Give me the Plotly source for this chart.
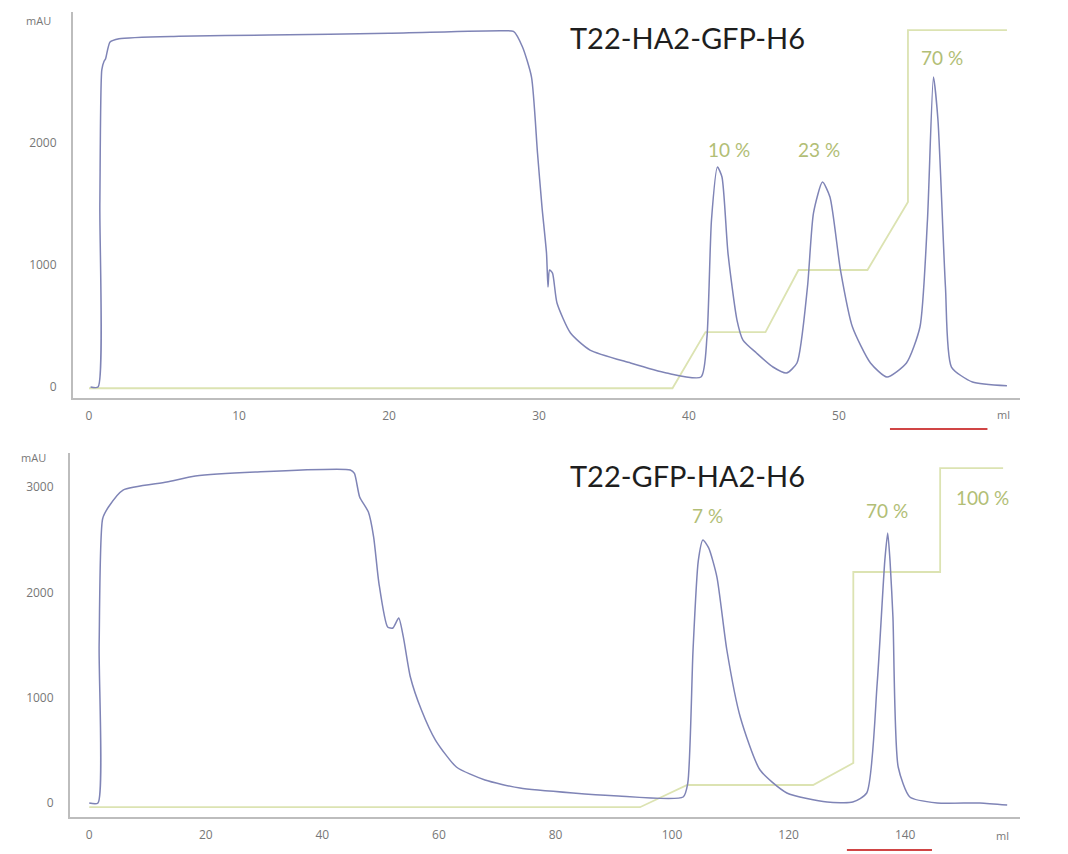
import plotly.graph_objects as go

# ---------------- data ----------------
top_title = "T22-HA2-GFP-H6"
top_x = [0.1, 0.6, 0.72, 0.85, 1.0, 1.1, 1.4, 2.0, 6.0, 12, 20, 27.5, 28.3, 28.9, 29.5, 29.9,
         30.2, 30.5, 30.6, 30.7, 30.9, 31.2, 32.1, 33.4, 36.1, 38.5, 40.8, 41.2, 41.5, 41.9,
         42.2, 42.6, 43.2, 43.6, 44.5, 45.6, 46.5, 47.2, 47.9, 48.3, 48.9, 49.4, 50.1, 50.9,
         52.1, 53.2, 54.5, 55.4, 55.9, 56.3, 56.6, 57.1, 57.5, 58.9, 61.2]
top_mau = [0, 0, 1500, 2600, 2670, 2690, 2828, 2855, 2875, 2885, 2900, 2920, 2915, 2787, 2541, 1918,
           1475, 1098, 820, 959, 934, 689, 443, 303, 197, 115, 82, 410, 1369, 1803,
           1721, 1098, 549, 385, 279, 164, 115, 197, 820, 1426, 1680, 1557, 959, 492,
           197, 82, 197, 492, 1369, 2541, 2189, 820, 164, 41, 10]
top_grad_x = [0, 38.9, 41.1, 45.1, 47.3, 51.9, 54.6, 54.6, 61.2]
top_grad = [-10, -10, 450, 450, 959, 959, 1516, 2926, 2926]
top_labels = ["10 %", "23 %", "70 %"]
top_label_x = [42.7, 48.7, 56.9]
top_label_y = [1943, 1943, 2697]
top_xticks = [0, 10, 20, 30, 40, 50]
top_yticks = [0, 1000, 2000]
top_fraction = [53.4, 59.9]

bot_title = "T22-GFP-HA2-H6"
bot_x = [0.0, 1.5, 1.7, 2.3, 3.3, 5.8, 13.3, 18.2, 28.5, 44.8, 45.5, 46.4, 47.9, 48.8, 49.7,
         51.2, 52.1, 53.1, 53.9, 55.1, 57.0, 59.4, 63.0, 67.9, 73.9, 83.0, 90, 101.9, 102.7,
         103.6, 104.5, 105.3, 106.3, 107.7, 109.4, 111.7, 115.1, 119.7, 126.6, 131.0, 133.4,
         135.2, 136.5, 137.0, 137.4, 137.9, 138.8, 140.8, 145.5, 152.8, 157.5]
bot_mau = [0, 0, 1500, 2700, 2811, 2972, 3048, 3105, 3143, 3162, 3130, 2906, 2763, 2526, 2089,
           1671, 1662, 1757, 1576, 1197, 883, 598, 342, 218, 142, 95, 70, 57, 190,
           1453, 2300, 2498, 2420, 2146, 1453, 817, 313, 95, 10, 9, 95,
           1140, 2300, 2564, 2300, 1766, 342, 57, 0, 0, -20]
bot_grad_x = [0, 94.5, 102.6, 124.2, 131.1, 131.1, 146.0, 146.0, 156.8]
bot_grad = [-40, -40, 171, 171, 380, 2194, 2194, 3181, 3181]
bot_labels = ["7 %", "70 %", "100 %"]
bot_label_x = [106.0, 136.9, 153.3]
bot_label_y = [2735, 2782, 2906]
bot_xticks = [0, 20, 40, 60, 80, 100, 120, 140]
bot_yticks = [0, 1000, 2000, 3000]
bot_fraction = [130.0, 144.6]

# ---------------- styling ----------------
OFF = 8  # default page body margin
W, H = 1068 - OFF, 854 - OFF
CURVE = "#7f84b6"
GRAD = "#dce3b2"
LBL = "#b2be76"
AXC = "#bdbdbd"
TICKF = dict(family="Open Sans", size=12, color="#777777")

def px(x):
    return (x - OFF) / W

def py(y):
    return 1 - (y - OFF) / H

fig = go.Figure()

fig.add_trace(go.Scatter(x=top_grad_x, y=top_grad, mode="lines", line=dict(color=GRAD, width=1.8),
                         xaxis="x", yaxis="y", hoverinfo="skip"))
fig.add_trace(go.Scatter(x=top_x, y=top_mau, mode="lines", line=dict(color=CURVE, width=1.5, shape="spline", smoothing=0.6),
                         xaxis="x", yaxis="y"))
fig.add_trace(go.Scatter(x=bot_grad_x, y=bot_grad, mode="lines", line=dict(color=GRAD, width=1.8),
                         xaxis="x2", yaxis="y2", hoverinfo="skip"))
fig.add_trace(go.Scatter(x=bot_x, y=bot_mau, mode="lines", line=dict(color=CURVE, width=1.5, shape="spline", smoothing=0.6),
                         xaxis="x2", yaxis="y2"))

axis_common = dict(showgrid=False, zeroline=False, showline=True, linecolor=AXC, linewidth=2,
                   ticks="", tickfont=TICKF)

fig.update_layout(
    width=W, height=H, margin=dict(l=0, r=0, t=0, b=0),
    paper_bgcolor="white", plot_bgcolor="white", showlegend=False,
    xaxis=dict(domain=[px(73), px(1020)], range=[-1.07, 62.07], anchor="y",
               tickvals=top_xticks, ticklabelstandoff=6, **axis_common),
    yaxis=dict(domain=[py(398), py(12)], range=[-90, 3074], anchor="x",
               tickvals=top_yticks, ticklabelstandoff=12, **axis_common),
    xaxis2=dict(domain=[px(70), px(1020)], range=[-3.3, 159.7], anchor="y2",
                tickvals=bot_xticks, ticklabelstandoff=6, **axis_common),
    yaxis2=dict(domain=[py(817), py(453)], range=[-133, 3324], anchor="x2",
                tickvals=bot_yticks, ticklabelstandoff=12, **axis_common),
)

ann = []
ann.append(dict(x=39.9, y=2869, xref="x", yref="y", text=top_title, showarrow=False,
                xanchor="center", yanchor="middle",
                font=dict(family="Lato", size=29, color="#1e1e1e")))
for t, x, y in zip(top_labels, top_label_x, top_label_y):
    ann.append(dict(x=x, y=y, xref="x", yref="y", text=t, showarrow=False,
                    xanchor="center", yanchor="middle",
                    font=dict(family="Lato", size=19, color=LBL)))
ann.append(dict(x=102.7, y=3115, xref="x2", yref="y2", text=bot_title, showarrow=False,
                xanchor="center", yanchor="middle",
                font=dict(family="Lato", size=29, color="#1e1e1e")))
for t, x, y in zip(bot_labels, bot_label_x, bot_label_y):
    ann.append(dict(x=x, y=y, xref="x2", yref="y2", text=t, showarrow=False,
                    xanchor="center", yanchor="middle",
                    font=dict(family="Lato", size=19, color=LBL)))
for (xx, yy, t) in [(38, 20, "mAU"), (33, 457, "mAU"), (1003, 414, "ml"), (1002, 835, "ml")]:
    ann.append(dict(x=px(xx), y=py(yy), xref="paper", yref="paper", text=t, showarrow=False,
                    xanchor="center", yanchor="middle",
                    font=dict(family="Open Sans", size=11, color="#777777")))
fig.update_layout(annotations=ann)

fig.add_shape(type="line", xref="x", yref="paper", x0=top_fraction[0], x1=top_fraction[1],
              y0=py(429), y1=py(429), line=dict(color="#d04545", width=2))
fig.add_shape(type="line", xref="x2", yref="paper", x0=bot_fraction[0], x1=bot_fraction[1],
              y0=py(850), y1=py(850), line=dict(color="#d04545", width=2))

fig.write_html("out.html")
